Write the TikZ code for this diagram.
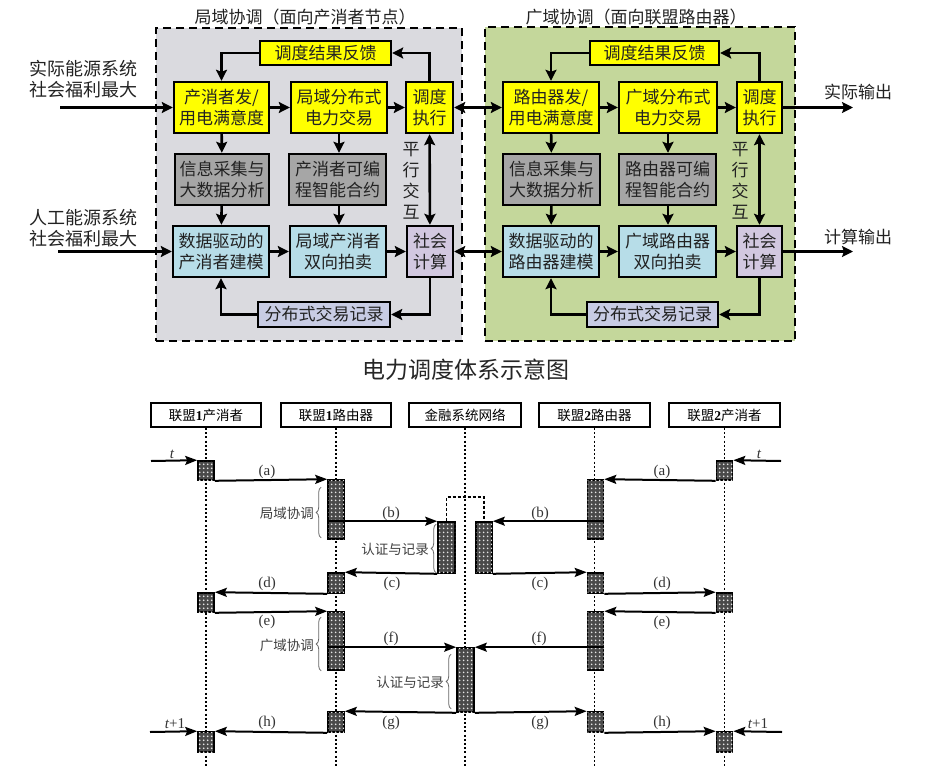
\documentclass[tikz,border=0pt]{standalone}
\usepackage{fontspec}
\setmainfont{Liberation Serif}
\newfontfamily\zh{Noto Sans CJK SC}
\usetikzlibrary{arrows.meta,patterns.meta,decorations.pathreplacing,calc}
\definecolor{cYel}{HTML}{FFFF00}
\definecolor{cGray}{HTML}{A6A6A6}
\definecolor{cBlue}{HTML}{B7DDE8}
\definecolor{cLav}{HTML}{D2C8E0}
\definecolor{cRec}{HTML}{C8CCE4}
\definecolor{cLeftBg}{HTML}{DADADF}
\definecolor{cRightBg}{HTML}{C4D79B}
\definecolor{cAct}{HTML}{4A4A4A}
\definecolor{cTxt}{HTML}{222222}
\newcommand\topfont{\zh\fontsize{17pt}{21pt}\selectfont}
\newcommand\seqfont{\zh\fontsize{13.5pt}{16pt}\selectfont}
\newcommand\lblfont{\fontsize{15pt}{17pt}\selectfont}
\tikzset{
  bgbox/.style={draw, line width=2.5pt, dash pattern=on 8pt off 5pt, inner sep=0pt},
  bigbox/.style={draw, line width=2.4pt, inner sep=0pt, align=center, minimum height=51pt, font=\topfont, text=cTxt},
  yelbox/.style={bigbox, fill=cYel},
  graybox/.style={bigbox, fill=cGray},
  bluebox/.style={bigbox, fill=cBlue},
  lavbox/.style={bigbox, fill=cLav},
  fbbox/.style={bigbox, fill=cYel, minimum height=24pt},
  recbox/.style={bigbox, fill=cRec, minimum height=25pt},
  arr/.style={line width=2.6pt, -{Stealth[length=11pt,width=11pt,inset=2pt]}},
  darr/.style={line width=2.6pt, {Stealth[length=11pt,width=11pt,inset=2pt]}-{Stealth[length=11pt,width=11pt,inset=2pt]}},
  plain/.style={font=\topfont, text=cTxt, align=center, inner sep=0pt},
  header/.style={draw, line width=1.9pt, minimum width=110pt, minimum height=24pt, inner sep=0pt, font=\seqfont, fill=white},
  life/.style={line width=1.7pt, dash pattern=on 2pt off 2.2pt},
  act/.style={draw, line width=1.6pt, fill=cAct, minimum width=16pt, inner sep=0pt,
    postaction={pattern={Dots[distance=4pt,radius=1.1pt]}, pattern color=white!80!gray}},
  sarr/.style={line width=2pt, -{Stealth[length=12pt,width=9pt,inset=2pt]}},
  lbl/.style={font=\lblfont, text=black!80, inner sep=0pt},
  brc/.style={decorate, decoration={brace, amplitude=5pt}, line width=0.8pt, draw=black!60},
  brtxt/.style={font=\seqfont, text=black!75, inner sep=0pt, anchor=east}
}
\begin{document}
\begin{tikzpicture}[x=1pt,y=-1pt]
\fill[white] (0,0) rectangle (929,776);
\useasboundingbox (0,0) rectangle (929,776);

% ---------- top: backgrounds ----------
\node[bgbox, fill=cLeftBg, minimum width=306pt, minimum height=313pt] (bgL) at (309,184.5) {};
\node[bgbox, fill=cRightBg, minimum width=310pt, minimum height=314pt] (bgR) at (640,184) {};
\node[plain] (titL) at (305,17) {局域协调（面向产消者节点）};
\node[plain] (titR) at (636,17) {广域协调（面向联盟路由器）};

% ---------- left block ----------
\node[fbbox, minimum width=131pt] (fb1) at (325.5,53) {调度结果反馈};
\node[yelbox, minimum width=95pt] (sat1) at (221.5,107.5) {产消者发/\\用电满意度};
\node[yelbox, minimum width=96pt] (trade1) at (339,107.5) {局域分布式\\电力交易};
\node[yelbox, minimum width=47pt] (exec1) at (429.5,107.5) {调度\\执行};
\node[graybox, minimum width=94pt] (info1) at (222,179.5) {信息采集与\\大数据分析};
\node[graybox, minimum width=97pt] (contract1) at (337.5,179.5) {产消者可编\\程智能合约};
\node[bluebox, minimum width=96pt] (model1) at (221,251.5) {数据驱动的\\产消者建模};
\node[bluebox, minimum width=96pt] (auction1) at (338,251.5) {局域产消者\\双向拍卖};
\node[lavbox, minimum width=46pt] (social1) at (430,251.5) {社会\\计算};
\node[recbox, minimum width=132pt] (record1) at (324,314.5) {分布式交易记录};
\node[plain] (par1) at (411,181) {\fontsize{17pt}{19.5pt}\selectfont 平\\行\\交\\互};

% ---------- right block ----------
\node[fbbox, minimum width=129pt] (fb2) at (654.5,53) {调度结果反馈};
\node[yelbox, minimum width=96pt] (sat2) at (551,107.5) {路由器发/\\用电满意度};
\node[yelbox, minimum width=98pt] (trade2) at (668,107.5) {广域分布式\\电力交易};
\node[yelbox, minimum width=45pt] (exec2) at (759.5,107.5) {调度\\执行};
\node[graybox, minimum width=97pt] (info2) at (551.5,179.5) {信息采集与\\大数据分析};
\node[graybox, minimum width=97pt] (contract2) at (667.5,179.5) {路由器可编\\程智能合约};
\node[bluebox, minimum width=96pt] (model2) at (551,251.5) {数据驱动的\\路由器建模};
\node[bluebox, minimum width=97pt] (auction2) at (667.5,251.5) {广域路由器\\双向拍卖};
\node[lavbox, minimum width=45pt] (social2) at (759.5,251.5) {社会\\计算};
\node[recbox, minimum width=131pt] (record2) at (652.5,314.5) {分布式交易记录};
\node[plain] (par2) at (740,181) {\fontsize{17pt}{19.5pt}\selectfont 平\\行\\交\\互};

% ---------- side texts ----------
\node[plain, font=\zh\fontsize{18pt}{21pt}\selectfont] (inL1) at (83,79) {实际能源系统\\社会福利最大};
\node[plain, font=\zh\fontsize{18pt}{21pt}\selectfont] (inL2) at (83,228) {人工能源系统\\社会福利最大};
\node[plain] (outR1) at (858,92) {实际输出};
\node[plain] (outR2) at (858,237.5) {计算输出};
\coordinate (in1) at (60,107.5);
\coordinate (in2) at (58,251.5);
\coordinate (out1) at (853,107.5);
\coordinate (out2) at (853,251.5);

% ---------- top connectors ----------
\draw[arr] (in1) -- (sat1.west);
\draw[arr] (in2) -- (model1.west);
\draw[arr] (sat1) -- (trade1);
\draw[arr] (trade1) -- (exec1);
\draw[arr] (exec1.north) |- (fb1.east);
\draw[arr] (fb1.west) -| (sat1.north);
\draw[arr] (sat1) -- (info1);
\draw[arr] (info1) -- (model1);
\draw[arr] (trade1.south) -- (contract1.north -| trade1.south);
\draw[arr] (contract1.south -| trade1.south) -- (auction1.north -| trade1.south);
\draw[arr] (model1) -- (auction1);
\draw[arr] (auction1) -- (social1);
\draw[darr] (exec1) -- (social1);
\draw[arr] (social1.south) |- (record1.east);
\draw[arr] (record1.west) -| (model1.south);
\draw[darr] (exec1) -- (sat2);
\draw[darr] (social1) -- (model2);

\draw[arr] (sat2) -- (trade2);
\draw[arr] (trade2) -- (exec2);
\draw[arr] (exec2.north) |- (fb2.east);
\draw[arr] (fb2.west) -| (sat2.north);
\draw[arr] (sat2) -- (info2);
\draw[arr] (info2) -- (model2);
\draw[arr] (trade2.south) -- (contract2.north -| trade2.south);
\draw[arr] (contract2.south -| trade2.south) -- (auction2.north -| trade2.south);
\draw[arr] (model2) -- (auction2);
\draw[arr] (auction2) -- (social2);
\draw[darr] (exec2) -- (social2);
\draw[arr] (social2.south) |- (record2.east);
\draw[arr] (record2.west) -| (model2.south);
\draw[arr] (exec2) -- (out1);
\draw[arr] (social2) -- (out2);

% ---------- caption ----------
\node[plain, font=\zh\fontsize{23pt}{26pt}\selectfont, text=black!85] (cap) at (466,370) {电力调度体系示意图};

% ---------- sequence diagram ----------
\node[header] (h1) at (206,415) {联盟{\rmfamily\bfseries 1}产消者};
\node[header] (h2) at (336,415) {联盟{\rmfamily\bfseries 1}路由器};
\node[header, minimum width=112pt] (h3) at (465,415) {金融系统网络};
\node[header, minimum width=111pt] (h4) at (594.5,415) {联盟{\rmfamily\bfseries 2}路由器};
\node[header, minimum width=111pt] (h5) at (724.5,415) {联盟{\rmfamily\bfseries 2}产消者};
\foreach \h/\e in {h1/e1,h2/e2,h3/e3,h4/e4,h5/e5} {
  \coordinate (\e) at ($(\h.south)+(0,338)$);
  \draw[life] (\h.south) -- (\e);
}

\node[act, minimum height=19pt] (b11) at (206,470.5) {};
\node[act, minimum height=19pt] (b12) at (206,602.5) {};
\node[act, minimum height=20pt] (b13) at (206,742) {};
\node[act, minimum height=59pt] (b21) at (336,509.5) {};
\node[act, minimum height=20pt] (b22) at (336,583) {};
\node[act, minimum height=58pt] (b23) at (336,641) {};
\node[act, minimum height=20pt] (b24) at (336,722) {};
\node[act, minimum width=17pt, minimum height=51pt] (f1) at (446.5,547.5) {};
\node[act, minimum height=51pt] (f2) at (484,547.5) {};
\node[act, minimum width=17pt, minimum height=64pt] (f3) at (465.5,680) {};
\node[act, minimum height=59pt] (b41) at (595.5,509.5) {};
\node[act, minimum height=20pt] (b42) at (595.5,583) {};
\node[act, minimum height=58pt] (b43) at (595.5,641) {};
\node[act, minimum height=20pt] (b44) at (595.5,722) {};
\node[act, minimum height=19pt] (b51) at (724.5,470.5) {};
\node[act, minimum height=19pt] (b52) at (724.5,602.5) {};
\node[act, minimum height=20pt] (b53) at (724.5,742) {};

\coordinate (ts1) at (151,461);
\coordinate (ts2) at (781,461);
\coordinate (tn1) at (150,732);
\coordinate (tn2) at (782,732);

\draw[sarr] (ts1) -- (b11.north west);
\draw[sarr] (ts2) -- (b51.north east);
\draw[sarr] (b11.south east) -- (b21.north west);
\draw[sarr] (b51.south west) -- (b41.north east);
\draw[sarr] (b21.west |- f1.north) -- (f1.north west);
\draw[sarr] (b41.east |- f2.north) -- (f2.north east);
\draw[line width=1.5pt, dash pattern=on 3pt off 2pt] (f1.north) -- ($(f1.north)+(0,-24)$) -| (f2.north);
\draw[sarr] (f1.south west) -- (b22.north east);
\draw[sarr] (f2.south east) -- (b42.north west);
\draw[sarr] (b22.south west) -- (b12.north east);
\draw[sarr] (b42.south east) -- (b52.north west);
\draw[sarr] (b12.south east) -- (b23.north west);
\draw[sarr] (b52.south west) -- (b43.north east);
\draw[sarr] (b23.west |- f3.north) -- (f3.north west);
\draw[sarr] (b43.east |- f3.north) -- (f3.north east);
\draw[sarr] (f3.south west) -- (b24.north east);
\draw[sarr] (f3.south east) -- (b44.north west);
\draw[sarr] (b24.south west) -- (b13.north east);
\draw[sarr] (b44.south east) -- (b53.north west);
\draw[sarr] (tn1) -- (b13.north west);
\draw[sarr] (tn2) -- (b53.north east);

% labels
\node[lbl] (la1) at (267,472) {(a)};
\node[lbl] (la2) at (662,472) {(a)};
\node[lbl] (lb1) at (391,514) {(b)};
\node[lbl] (lb2) at (540,514) {(b)};
\node[lbl] (lc1) at (392,584) {(c)};
\node[lbl] (lc2) at (540,584) {(c)};
\node[lbl] (ld1) at (267,584) {(d)};
\node[lbl] (ld2) at (662,584) {(d)};
\node[lbl] (le1) at (267,622) {(e)};
\node[lbl] (le2) at (662,623) {(e)};
\node[lbl] (lf1) at (391,639) {(f)};
\node[lbl] (lf2) at (539,639) {(f)};
\node[lbl] (lg1) at (391,723) {(g)};
\node[lbl] (lg2) at (540,723) {(g)};
\node[lbl] (lh1) at (267,723) {(h)};
\node[lbl] (lh2) at (662,723) {(h)};
\node[lbl] (lt1) at (172,454) {\itshape t};
\node[lbl] (lt2) at (759,454) {\itshape t};
\node[lbl] (ltn1) at (175,724) {{\itshape t}+1};
\node[lbl] (ltn2) at (758,724) {{\itshape t}+1};

% braces
\coordinate (br1a) at ($(b21.south west)+(-6,-2)$);
\coordinate (br1b) at ($(b21.north west)+(-6,8)$);
\draw[brc] (br1a) -- (br1b);
\node[brtxt] (bt1) at (314,513) {局域协调};
\coordinate (br2a) at ($(f1.south west)+(-1,-1)$);
\coordinate (br2b) at ($(f1.north west)+(-1,3)$);
\draw[brc] (br2a) -- (br2b);
\node[brtxt] (bt2) at (429,549) {认证与记录};
\coordinate (br3a) at ($(b23.south west)+(-6,0)$);
\coordinate (br3b) at ($(b23.north west)+(-6,6)$);
\draw[brc] (br3a) -- (br3b);
\node[brtxt] (bt3) at (314,645) {广域协调};
\coordinate (br4a) at ($(f3.south west)+(-5,-4)$);
\coordinate (br4b) at ($(f3.north west)+(-5,7)$);
\draw[brc] (br4a) -- (br4b);
\node[brtxt] (bt4) at (444,682) {认证与记录};
\end{tikzpicture}
\end{document}
